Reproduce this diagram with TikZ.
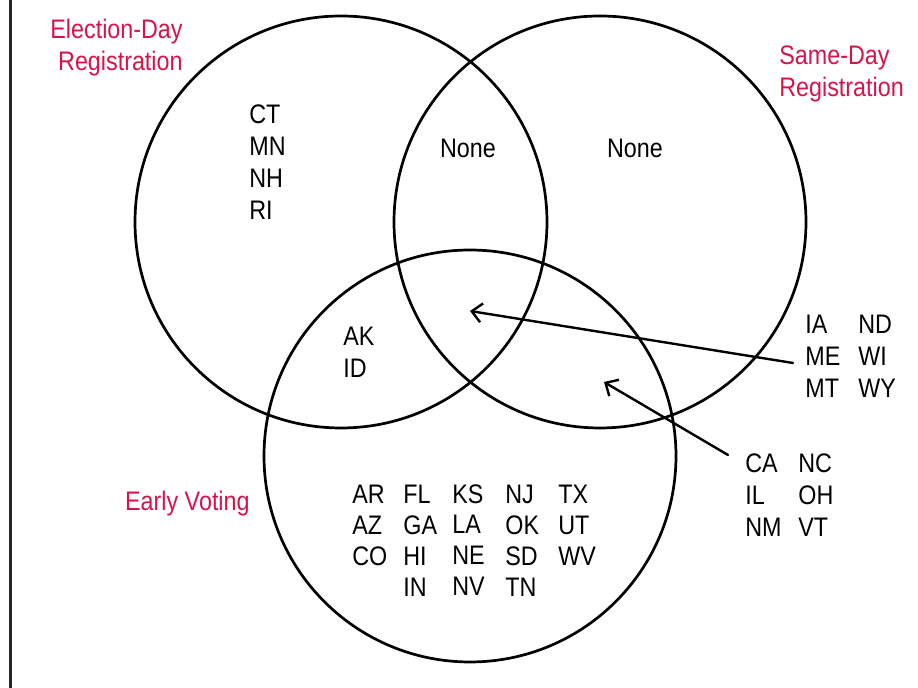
\documentclass[tikz,border=0pt]{standalone}
\usepackage{fontspec}
\setmainfont{Liberation Sans}[FakeStretch=0.87]
\usetikzlibrary{arrows.meta}
\definecolor{vennred}{RGB}{214,20,74}
\tikzset{
  venn/.style={circle,draw,line width=1.35pt,minimum size=206pt,inner sep=0pt},
  setlabel/.style={text=vennred,font=\fontsize{13.4}{16}\selectfont,inner sep=0pt},
  statelist/.style={font=\fontsize{13.4}{16}\selectfont,align=left,inner sep=0pt,anchor=north west},
  gridlist/.style={font=\fontsize{13.4}{15.4}\selectfont,align=left,inner sep=0pt,anchor=north west},
  pointer/.style={->,line width=1.2pt}
}
\begin{document}
\begin{tikzpicture}[line cap=round,line join=round,>={Straight Barb[length=5pt,width=9.5pt]},x=0.5pt,y=-0.5pt]
\useasboundingbox (0,0) rectangle (918,688);
\draw[line width=1.5pt,black!85] (10,0)--(10,688);
% the three sets
\node[venn] (eday) at (341,222) {};
\node[venn] (sday) at (600,222) {};
\node[venn] (early) at (470,456) {};
% set names
\node[setlabel,align=right,anchor=north east] (edaylbl) at (183,19) {Election-Day\\Registration};
\node[setlabel,align=left,anchor=north west] (sdaylbl) at (779,45) {Same-Day\\Registration};
\node[setlabel,anchor=base east] (earlylbl) at (250,511) {Early Voting};
% states in each region
\node[statelist] (edonly) at (249,104) {CT\\MN\\NH\\RI};
\node[statelist,anchor=center] (edsd) at (468,148) {None};
\node[statelist,anchor=center] (sdonly) at (635,148) {None};
\node[statelist] (edev) at (343,327) {AK\\ID};
\node[statelist] (allone) at (805,315) {IA\\ME\\MT};
\node[statelist] (alltwo) at (858,315) {ND\\WI\\WY};
\node[statelist] (sdevone) at (745,453) {CA\\IL\\NM};
\node[statelist] (sdevtwo) at (798,453) {NC\\OH\\VT};
\node[gridlist] (evone) at (352,485) {AR\\AZ\\CO};
\node[gridlist] (evtwo) at (403,485) {FL\\GA\\HI\\IN};
\node[gridlist] (evthree) at (452,484) {KS\\LA\\NE\\NV};
\node[gridlist] (evfour) at (505,485) {NJ\\OK\\SD\\TN};
\node[gridlist] (evfive) at (558,485) {TX\\UT\\WV};
% pointers into the overlaps
\coordinate (alltail) at (793,363);
\coordinate (alltip) at (470,311);
\coordinate (sdevtail) at (728,455);
\coordinate (sdevtip) at (604,382);
\draw[pointer] (alltail)--(alltip);
\draw[pointer] (sdevtail)--(sdevtip);
\end{tikzpicture}
\end{document}
